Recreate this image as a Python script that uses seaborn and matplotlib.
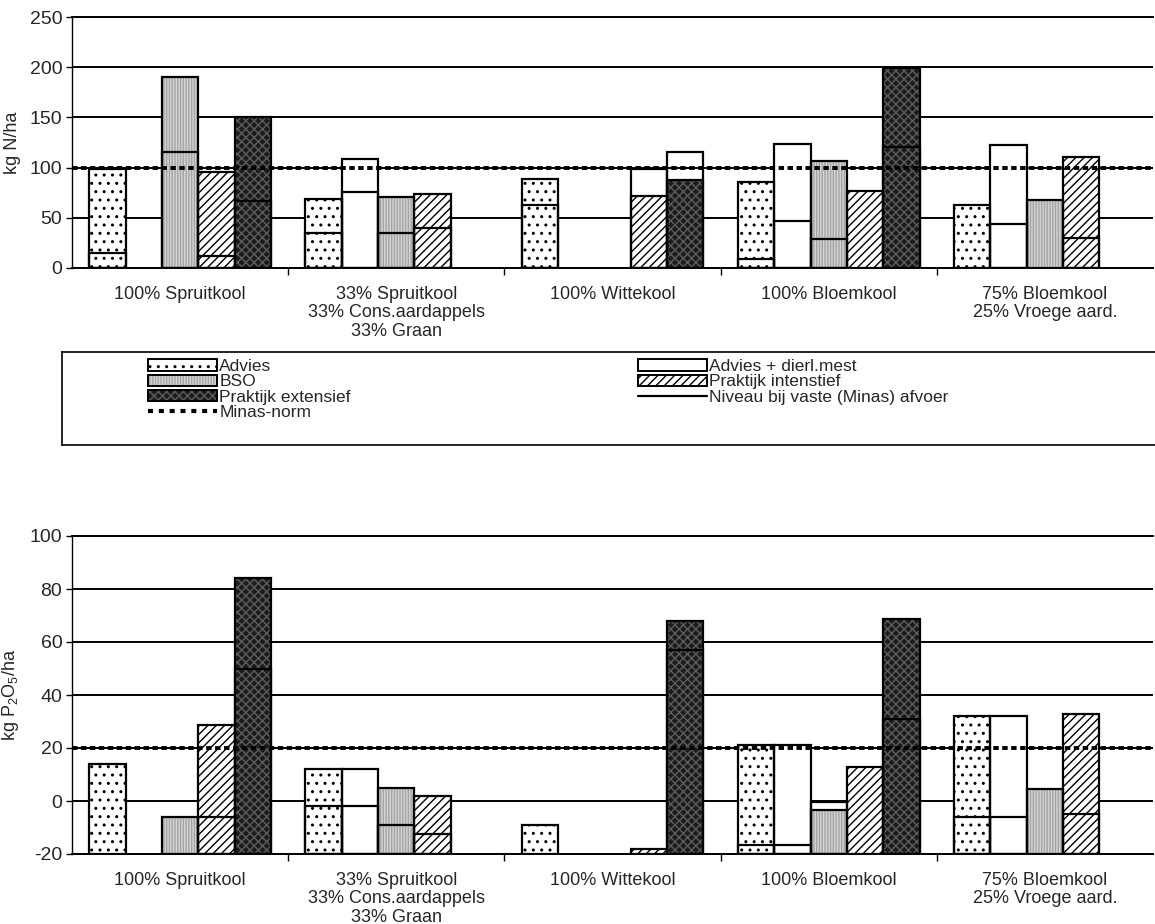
import numpy as np
import pandas as pd
import matplotlib
matplotlib.use("Agg")
import matplotlib.pyplot as plt
from matplotlib import font_manager
from matplotlib.patches import Patch
from matplotlib.lines import Line2D
from matplotlib.legend_handler import HandlerTuple
import seaborn as sns

# ---------------------------------------------------------------- data
crops = [
    "100% Spruitkool",
    "33% Spruitkool\n33% Cons.aardappels\n33% Graan",
    "100% Wittekool",
    "100% Bloemkool",
    "75% Bloemkool\n25% Vroege aard.",
]
series = ["Advies", "Advies + dierl.mest", "BSO",
          "Praktijk intenstief", "Praktijk extensief"]
nan = np.nan

# N surplus (kg N/ha): bar value per strategy
n_advies = [99, 69, 89, 86, 63]
n_advies_mest = [nan, 109, nan, 124, 123]
n_bso = [190, 71, nan, 107, 68]
n_prak_int = [96, 74, 72, 77, 111]
n_prak_ext = [150, nan, 88, 199, nan]
# N surplus at fixed (Minas) removal
n_lvl_advies = [15, 35, 63, 9, nan]
n_lvl_advies_mest = [nan, 76, nan, 47, 44]
n_lvl_bso = [116, 35, nan, 29, nan]
n_lvl_prak_int = [12, 40, 99, nan, 30]
n_lvl_prak_ext = [67, nan, 116, 121, nan]
n_norm = 100

# P2O5 surplus (kg P2O5/ha)
p_advies = [14, 12, -9, 21, 32]
p_advies_mest = [nan, 12, nan, 21, 32]
p_bso = [-6, 5, nan, -3.5, 4.5]
p_prak_int = [28.5, 2, -18, 13, 33]
p_prak_ext = [84, nan, 68, 68.5, nan]
p_lvl_advies = [nan, -2, nan, -16.5, -6]
p_lvl_advies_mest = [nan, -2, nan, -16.5, -6]
p_lvl_bso = [nan, -9, nan, -0.5, nan]
p_lvl_prak_int = [-6, -12.5, nan, nan, -5]
p_lvl_prak_ext = [50, nan, 57, 31, nan]
p_norm = 20

n_ticks = [0, 50, 100, 150, 200, 250]
p_ticks = [-20, 0, 20, 40, 60, 80, 100]

# ---------------------------------------------------------------- style
sns.set_theme(style="white")
names = {f.name for f in font_manager.fontManager.ttflist}
FONT = next((c for c in ["Liberation Sans Narrow", "DejaVu Sans Condensed",
                         "Liberation Sans", "DejaVu Sans"] if c in names),
            "DejaVu Sans")
plt.rcParams["font.family"] = [FONT, "DejaVu Sans"]
plt.rcParams["mathtext.default"] = "regular"
plt.rcParams["axes.unicode_minus"] = False
plt.rcParams["hatch.linewidth"] = 1.0

fills = {
    "Advies": dict(face="white", hatch="..", hc="black"),
    "Advies + dierl.mest": dict(face="white", hatch=None, hc="white"),
    "BSO": dict(face="#a4a4a4", hatch="||||||", hc="#d4d4d4"),
    "Praktijk intenstief": dict(face="white", hatch="////", hc="black"),
    "Praktijk extensief": dict(face="#1c1c1c", hatch="xxxx", hc="#5c5c5c"),
}
BAR_W = 0.84
EDGE_LW = 1.6

W, H = 1155, 924
fig = plt.figure(figsize=(W / 100, H / 100), dpi=100)


def box(l, t, r, b):
    return [l / W, 1 - b / H, (r - l) / W, (b - t) / H]


def long_frame(values, levels):
    rows = []
    for s, vals, lv in zip(series, values, levels):
        for c, v, l in zip(crops, vals, lv):
            rows.append(dict(crop=c, series=s, value=v, level=l))
    return pd.DataFrame(rows)


def rebase(patches, floor):
    # bars grow from the bottom of the value axis
    for p in patches:
        v = p.get_height()
        p.set_y(floor)
        p.set_height(v - floor)


def panel(ax, values, levels, floor, top, ticks, norm, ylabel):
    df = long_frame(values, levels)
    common = dict(data=df, x="crop", hue="series", order=crops,
                  hue_order=series, width=BAR_W, dodge=True, legend=False,
                  errorbar=None, ax=ax)
    nh = len(series)
    wbar = BAR_W / nh

    # pattern fill
    n0 = len(ax.containers)
    sns.barplot(y="value", linewidth=0, zorder=2, **common)
    for cont in ax.containers[n0:]:
        for p in cont:
            xc = p.get_x() + p.get_width() / 2
            off = xc - round(xc)
            i = int(round((off + BAR_W / 2) / wbar - 0.5))
            st = fills[series[i]]
            p.set_facecolor(st["face"])
            p.set_edgecolor(st["hc"])
            p.set_hatch(st["hatch"])
            p.set_linewidth(0)
        rebase(cont, floor)

    # bar outline
    n1 = len(ax.containers)
    sns.barplot(y="value", fill=False, zorder=3, **common)
    for cont in ax.containers[n1:]:
        for p in cont:
            p.set_facecolor("none")
            p.set_edgecolor("black")
            p.set_linewidth(EDGE_LW)
        rebase(cont, floor)

    # level at fixed (Minas) removal
    n2 = len(ax.containers)
    sns.barplot(y="level", fill=False, zorder=3, **common)
    for cont in ax.containers[n2:]:
        for p in cont:
            p.set_facecolor("none")
            p.set_edgecolor("black")
            p.set_linewidth(EDGE_LW)
        rebase(cont, floor)

    ax.axhline(norm, color="black", lw=2.8, ls=(0, (1.4, 0.9)), zorder=5)

    ax.set_xlim(-0.5, len(crops) - 0.5)
    ax.set_ylim(floor, top)
    ax.set_yticks(ticks)
    ax.set_yticklabels([str(t) for t in ticks])
    ax.set_xticks(range(len(crops)))
    ax.set_xticklabels(crops, fontsize=13, linespacing=1.1)
    ax.set_xticks([k + 0.5 for k in range(len(crops) - 1)], minor=True)
    ax.tick_params(axis="x", which="major", length=0, pad=13)
    ax.tick_params(axis="x", which="minor", length=5, width=1.0,
                   direction="out", color="black", bottom=True)
    ax.tick_params(axis="y", which="major", length=4, width=1.0,
                   direction="out", color="black", left=True,
                   labelsize=14, pad=3)
    ax.set_axisbelow(True)
    ax.yaxis.grid(True, color="black", lw=1.4)
    ax.xaxis.grid(False)
    ax.spines["right"].set_visible(False)
    ax.spines["left"].set_color("black")
    ax.spines["left"].set_linewidth(1.0)
    ax.spines["bottom"].set_color("black")
    ax.spines["bottom"].set_linewidth(1.4)
    ax.spines["top"].set_color("black")
    ax.spines["top"].set_linewidth(1.4)
    ax.set_xlabel("")
    ax.set_ylabel(ylabel, fontsize=13, labelpad=2)
    ax.yaxis.set_label_coords(-0.047, 0.5)


ax_n = fig.add_axes(box(72, 17, 1153, 268))
panel(ax_n,
      [n_advies, n_advies_mest, n_bso, n_prak_int, n_prak_ext],
      [n_lvl_advies, n_lvl_advies_mest, n_lvl_bso, n_lvl_prak_int,
       n_lvl_prak_ext],
      0, 250, n_ticks, n_norm, "kg N/ha")

ax_p = fig.add_axes(box(72, 536, 1153, 854))
panel(ax_p,
      [p_advies, p_advies_mest, p_bso, p_prak_int, p_prak_ext],
      [p_lvl_advies, p_lvl_advies_mest, p_lvl_bso, p_lvl_prak_int,
       p_lvl_prak_ext],
      -20, 100, p_ticks, p_norm, "kg P$_2$O$_5$/ha")

# ---------------------------------------------------------------- legend
lax = fig.add_axes(box(62, 352, 1175, 445))
lax.set_xticks([])
lax.set_yticks([])
lax.set_facecolor("none")
for side in ("left", "top", "bottom"):
    lax.spines[side].set_color("black")
    lax.spines[side].set_linewidth(1.2)
lax.spines["right"].set_visible(False)


def legend_patch(s):
    st = fills[s]
    under = Patch(facecolor=st["face"], edgecolor=st["hc"], hatch=st["hatch"],
                  linewidth=0)
    over = Patch(facecolor="none", edgecolor="black", linewidth=1.4)
    return (under, over)


niveau = Line2D([], [], color="black", lw=1.6)
minas = Line2D([], [], color="black", lw=3.0, ls=(0, (1.2, 1.4)))

leg_kw = dict(frameon=False, fontsize=12.5, handlelength=4.0,
              handleheight=0.62, handletextpad=0.1, labelspacing=0.02,
              borderpad=0, borderaxespad=0, loc="upper left",
              handler_map={tuple: HandlerTuple(ndivide=1, pad=0)})
leg1 = fig.legend([legend_patch("Advies"), legend_patch("BSO"),
                   legend_patch("Praktijk extensief"), minas],
                  ["Advies", "BSO", "Praktijk extensief", "Minas-norm"],
                  bbox_to_anchor=(148 / W, 1 - 359 / H), **leg_kw)
leg2 = fig.legend([legend_patch("Advies + dierl.mest"),
                   legend_patch("Praktijk intenstief"), niveau],
                  ["Advies + dierl.mest", "Praktijk intenstief",
                   "Niveau bij vaste (Minas) afvoer"],
                  bbox_to_anchor=(638 / W, 1 - 359 / H), **leg_kw)

fig.savefig("out.png", dpi=100)
